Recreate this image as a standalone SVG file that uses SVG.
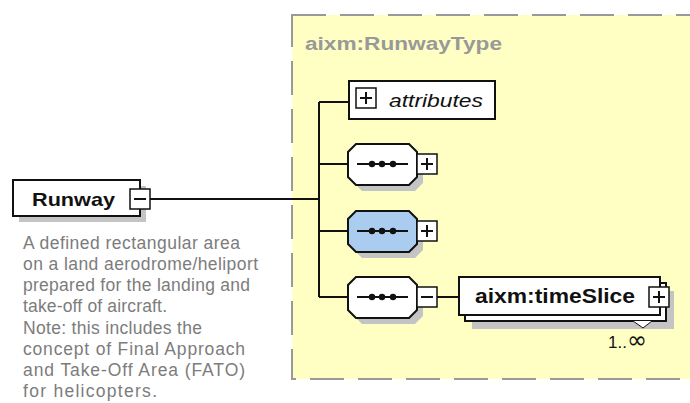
<svg xmlns="http://www.w3.org/2000/svg" width="690" height="403" viewBox="0 0 690 403">
<defs>
<style>
.frame{fill:#ffffc4;stroke:#999;stroke-width:2;stroke-dasharray:34 14}
.box{fill:#fff;stroke:#111;stroke-width:2}
.shadow{fill:#c4c4c4;stroke:none}
.blue{fill:#a9ccef;stroke:#111;stroke-width:2}
.con{fill:none;stroke:#111;stroke-width:2}
.sm{fill:#fff;stroke:#111;stroke-width:1.5}
.pm{fill:none;stroke:#111;stroke-width:2}
.desc{font-family:"Liberation Sans",Arial,sans-serif;font-size:17.5px;fill:#7c7c7c}
.bold{font-family:"Liberation Sans",Arial,sans-serif;font-weight:bold;fill:#111}
</style>
<g id="seqicon">
<line x1="9" y1="20" x2="60" y2="20" stroke="#111" stroke-width="2"/>
<circle cx="24" cy="20" r="3.2" fill="#111"/>
<circle cx="34" cy="20" r="3.2" fill="#111"/>
<circle cx="45" cy="20" r="3.2" fill="#111"/>
</g>
<g id="plus">
<rect x="0" y="0" width="20" height="20" class="sm"/>
<path d="M4 10H16M10 4V16" class="pm"/>
</g>
<g id="minus">
<rect x="0" y="0" width="20" height="20" class="sm"/>
<path d="M4 10H16" class="pm"/>
</g>
</defs>
<rect width="690" height="403" fill="#fff"/>
<g id="type-frame">
<rect x="292" y="15" width="420" height="364" class="frame"/>
<text x="305" y="50" class="bold" font-size="18" style="fill:#999" textLength="197" lengthAdjust="spacingAndGlyphs">aixm:RunwayType</text>
</g>
<g id="connectors">
<path d="M150 199H319M319 102V297M319 102H349M319 164H348M319 231H348M319 297H348M437 297H459" class="con"/>
</g>
<g id="runway">
<rect x="19" y="186" width="127" height="36" class="shadow"/>
<rect x="13" y="180" width="127" height="36" class="box"/>
<text x="32" y="206" class="bold" font-size="19" textLength="83" lengthAdjust="spacingAndGlyphs">Runway</text>
<use href="#minus" x="130" y="189"/>
</g>
<g id="runway-doc" class="desc">
<text x="23" y="249" textLength="217">A defined rectangular area</text>
<text x="23" y="270" textLength="235">on a land aerodrome/heliport</text>
<text x="23" y="291" textLength="227">prepared for the landing and</text>
<text x="23" y="312" textLength="144">take-off of aircraft.</text>
<text x="23" y="334" textLength="179">Note: this includes the</text>
<text x="23" y="355" textLength="222">concept of Final Approach</text>
<text x="23" y="376" textLength="222">and Take-Off Area (FATO)</text>
<text x="23" y="397" textLength="134">for helicopters.</text>
</g>
<g id="attributes">
<rect x="349" y="81" width="146" height="38" class="box"/>
<use href="#plus" x="356" y="88"/>
<text x="389" y="107" font-family="Liberation Sans,Arial,sans-serif" font-style="italic" font-size="18" fill="#111" textLength="94" lengthAdjust="spacingAndGlyphs">attributes</text>
</g>
<g id="sequence1">
<polygon transform="translate(354,150)" points="8,0 61,0 69,8 69,33 61,41 8,41 0,33 0,8" class="shadow"/>
<polygon transform="translate(348,144)" points="8,0 61,0 69,8 69,33 61,41 8,41 0,33 0,8" class="box"/>
<use href="#seqicon" x="348" y="144"/>
<use href="#plus" x="417" y="154"/>
</g>
<g id="sequence2">
<polygon transform="translate(354,217)" points="8,0 61,0 69,8 69,33 61,41 8,41 0,33 0,8" class="shadow"/>
<polygon transform="translate(348,211)" points="8,0 61,0 69,8 69,33 61,41 8,41 0,33 0,8" class="blue"/>
<use href="#seqicon" x="348" y="211"/>
<use href="#plus" x="417" y="221"/>
</g>
<g id="sequence3">
<polygon transform="translate(354,283)" points="8,0 61,0 69,8 69,33 61,41 8,41 0,33 0,8" class="shadow"/>
<polygon transform="translate(348,277)" points="8,0 61,0 69,8 69,33 61,41 8,41 0,33 0,8" class="box"/>
<use href="#seqicon" x="348" y="277"/>
<use href="#minus" x="417" y="287"/>
</g>
<g id="timeSlice">
<rect x="472" y="291" width="202" height="38" class="shadow"/>
<rect x="465" y="283" width="201" height="38" class="box"/>
<polyline points="633,321 643,328 652,321" fill="#fff" stroke="#111" stroke-width="1"/>
<rect x="459" y="277" width="201" height="38" class="box"/>
<text x="475" y="303" class="bold" font-size="20" textLength="160" lengthAdjust="spacingAndGlyphs">aixm:timeSlice</text>
<use href="#plus" x="649" y="287"/>
<text x="608" y="348" font-family="Liberation Sans,Arial,sans-serif" font-size="17" fill="#111">1..<tspan font-size="24" font-family="DejaVu Sans,sans-serif">∞</tspan></text>
</g>
</svg>
